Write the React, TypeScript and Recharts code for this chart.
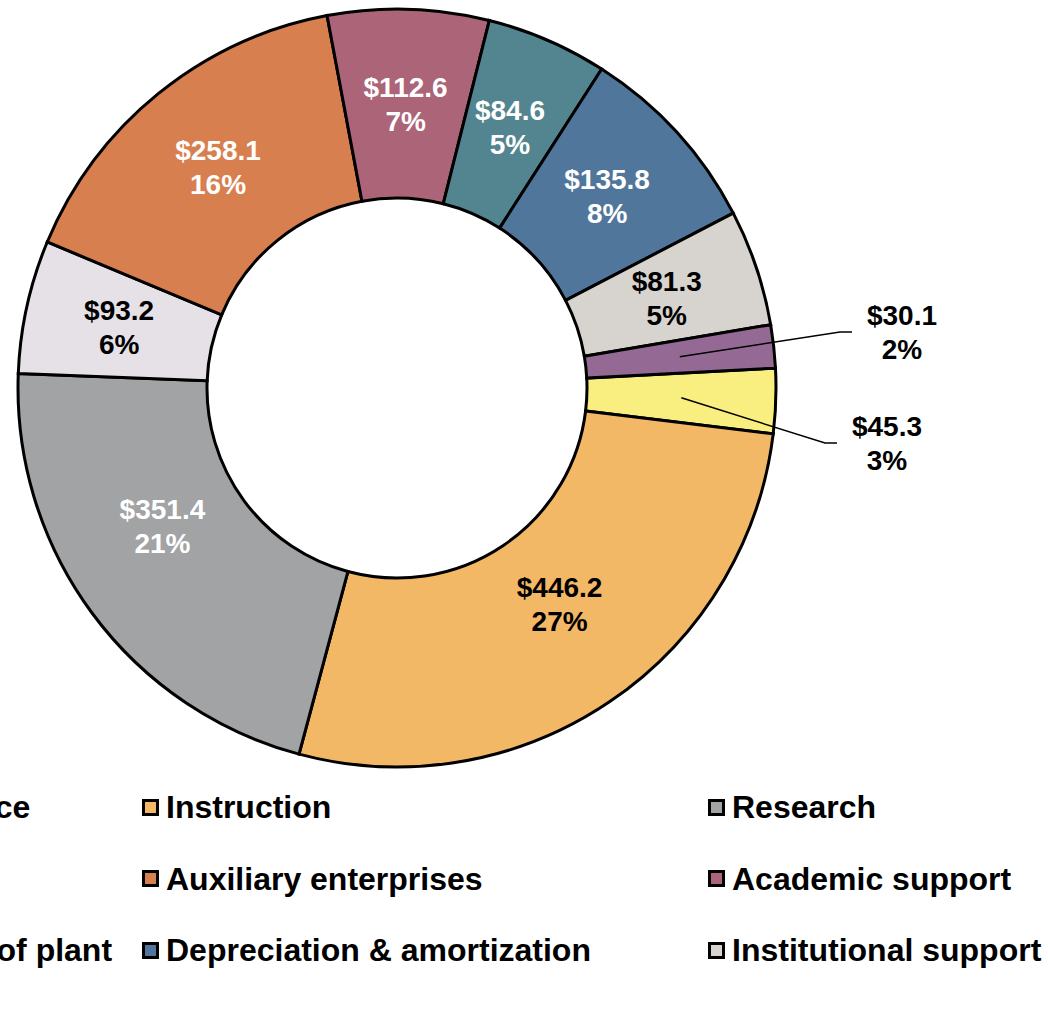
import { PieChart, Pie, Cell } from "recharts";

// expense categories, in legend / data order (first column of the legend is cut off in the source)
const categories = [
  "Community & public service",
  "Instruction",
  "Research",
  "Student services",
  "Auxiliary enterprises",
  "Academic support",
  "Operation & maintenance of plant",
  "Depreciation & amortization",
  "Institutional support",
  "Scholarships",
];

// $ millions
const amounts = [45.3, 446.2, 351.4, 93.2, 258.1, 112.6, 84.6, 135.8, 81.3, 30.1];

const colors = [
  "#F9EE80",
  "#F3B866",
  "#A2A3A5",
  "#E6E1E7",
  "#D77F4F",
  "#AC6479",
  "#52858F",
  "#50769B",
  "#D7D3CE",
  "#946A95",
];

const labelColors = ["#000", "#000", "#fff", "#000", "#fff", "#fff", "#fff", "#fff", "#000", "#000"];

const data = categories.map((name, i) => ({ name, value: amounts[i] }));

const FONT = "Arial, 'Liberation Sans', sans-serif";
const RAD = Math.PI / 180;

// labels pulled out of the ring with a leader line (offset of line end from pie centre)
const leaderLabels: Record<string, { dx: number; dy: number }> = {
  "Community & public service": { dx: 440, dy: 55 },
  Scholarships: { dx: 455, dy: -56 },
};

// small hand adjustments, like the moved labels in the original
const labelNudge: Record<string, { angle: number; radius: number }> = {
  Instruction: { angle: 3, radius: 270 },
  Research: { angle: -6, radius: 272 },
};

const renderLabel = (props: any) => {
  const { cx, cy, midAngle, innerRadius, outerRadius, percent, index, value } = props;
  const name = categories[index];
  const top = `$${Number(value).toFixed(1)}`;
  const bottom = `${Math.round(percent * 100)}%`;
  const mid = (innerRadius + outerRadius) / 2;
  const lead = leaderLabels[name];

  if (lead) {
    const sx = cx + mid * Math.cos(-midAngle * RAD);
    const sy = cy + mid * Math.sin(-midAngle * RAD);
    const ex = cx + lead.dx;
    const ey = cy + lead.dy;
    return (
      <g>
        <polyline
          points={`${sx},${sy} ${ex - 12},${ey} ${ex},${ey}`}
          fill="none"
          stroke="#000"
          strokeWidth={1.5}
        />
        <text
          x={ex + 50}
          textAnchor="middle"
          dominantBaseline="central"
          fill={labelColors[index]}
          fontFamily={FONT}
          fontWeight="bold"
          fontSize={28}
        >
          <tspan x={ex + 50} y={ey - 17}>{top}</tspan>
          <tspan x={ex + 50} y={ey + 17}>{bottom}</tspan>
        </text>
      </g>
    );
  }

  const nudge = labelNudge[name];
  const ang = midAngle + (nudge ? nudge.angle : 0);
  const r = nudge ? nudge.radius : mid;
  const x = cx + r * Math.cos(-ang * RAD);
  const y = cy + r * Math.sin(-ang * RAD);
  return (
    <text
      x={x}
      textAnchor="middle"
      dominantBaseline="central"
      fill={labelColors[index]}
      fontFamily={FONT}
      fontWeight="bold"
      fontSize={28}
    >
      <tspan x={x} y={y - 17}>{top}</tspan>
      <tspan x={x} y={y + 17}>{bottom}</tspan>
    </text>
  );
};

const App = () => {
  return (
    <div
      style={{
        position: "absolute",
        left: 0,
        top: 0,
        width: 1048,
        height: 1034,
        overflow: "hidden",
        background: "#fff",
        fontFamily: FONT,
      }}
    >
      <PieChart width={1048} height={800} margin={{ top: 0, right: 0, bottom: 0, left: 0 }}>
        <Pie
          data={data}
          dataKey="value"
          nameKey="name"
          cx={397}
          cy={388}
          innerRadius={190}
          outerRadius={379}
          startAngle={3}
          endAngle={-357}
          stroke="#000"
          strokeWidth={3}
          label={renderLabel}
          labelLine={false}
          isAnimationActive={false}
        >
          {data.map((d, i) => (
            <Cell key={d.name} fill={colors[i]} />
          ))}
        </Pie>
      </PieChart>

      {categories.map((name, i) => (
        <div
          key={name}
          style={{
            position: "absolute",
            left: -424 + (i % 3) * 566,
            top: 789 + Math.floor(i / 3) * 71.5,
            height: 36,
            display: "flex",
            alignItems: "center",
            whiteSpace: "nowrap",
          }}
        >
          <span
            style={{
              width: 17,
              height: 17,
              boxSizing: "border-box",
              border: "3px solid #000",
              background: colors[i],
              marginRight: 7,
            }}
          />
          <span style={{ fontSize: 32, fontWeight: "bold", lineHeight: "36px", color: "#000" }}>
            {name}
          </span>
        </div>
      ))}
    </div>
  );
};

export default App;
